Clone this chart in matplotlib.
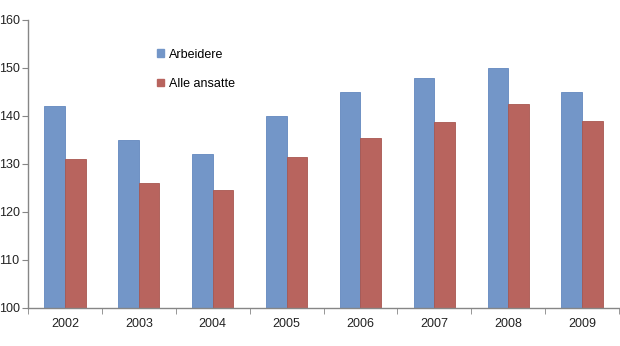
import numpy as np
import matplotlib.pyplot as plt
from matplotlib.patches import Patch

plt.rcParams['font.family'] = ['Liberation Sans', 'DejaVu Sans']

years = ['2002', '2003', '2004', '2005', '2006', '2007', '2008', '2009']
arbeidere = [142, 135, 132, 140, 145, 148, 150, 145]
alle_ansatte = [131, 126, 124.5, 131.5, 135.5, 138.8, 142.5, 139]

blue = '#7396C8'
red = '#B8645E'
grey = '#868686'

fig = plt.figure(figsize=(6.2, 3.46), dpi=100)
ax = fig.add_axes([28/620, 1-308/346, 591/620, 288/346])

x = np.arange(len(years))
w = 0.28
ax.bar(x - w/2, arbeidere, width=w, color=blue, edgecolor='#6288BE', linewidth=0.6, label='Arbeidere')
ax.bar(x + w/2, alle_ansatte, width=w, color=red, edgecolor='#A85750', linewidth=0.6, label='Alle ansatte')

ax.set_ylim(100, 160)
ax.set_yticks(np.arange(100, 161, 10))
ax.set_xlim(-0.5, len(years) - 0.5)
ax.set_xticks(x)
ax.set_xticklabels(years)
ax.set_xticks(np.arange(-0.5, len(years)), minor=True)
ax.tick_params(axis='x', which='major', length=0, pad=7)
ax.tick_params(axis='x', which='minor', length=4, color=grey, direction='out')
ax.tick_params(axis='y', length=4, color=grey, pad=2)
ax.tick_params(labelsize=9, labelcolor='#222222')

for s in ['top', 'right']:
    ax.spines[s].set_visible(False)
for s in ['left', 'bottom']:
    ax.spines[s].set_color(grey)
    ax.spines[s].set_linewidth(1.0)

handles = [Patch(color=blue), Patch(color=red)]
ax.legend(handles, ['Arbeidere', 'Alle ansatte'], loc='upper left',
          bbox_to_anchor=(0.2, 0.94), frameon=False, fontsize=9,
          handlelength=0.55, handleheight=0.55, handletextpad=0.4,
          labelspacing=1.4)

plt.savefig('out.png', dpi=100)
